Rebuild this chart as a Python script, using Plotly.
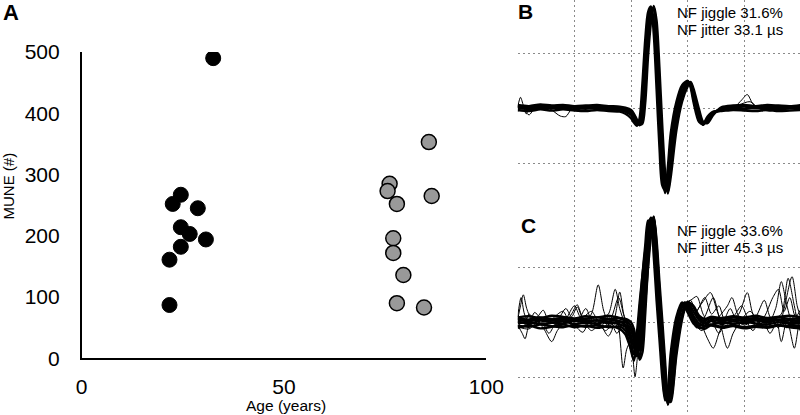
import plotly.graph_objs as go

# Panel A: MUNE vs age
young_age = [32.5, 24.5, 22.5, 28.7, 24.5, 26.7, 30.7, 24.5, 21.7, 21.7]
young_mune = [490, 267, 252, 245, 214, 203, 194, 182, 161, 87]
old_age = [85.8, 76.1, 75.6, 86.5, 77.9, 77.0, 77.0, 79.5, 77.9, 84.6]
old_mune = [353, 285, 273, 265, 252, 196, 172, 136, 90, 83]

# Panel B: superimposed near-fibre MUP traces (grid units)
tB = [0.0, 0.2, 0.4, 0.6, 0.8, 1.0, 1.2, 1.4, 1.6, 1.8, 1.9, 2.0, 2.05, 2.1, 2.15, 2.2,
      2.25, 2.3, 2.35, 2.4, 2.45, 2.5, 2.55, 2.6, 2.65, 2.7, 2.8, 2.9, 3.0, 3.05, 3.1,
      3.2, 3.27, 3.35, 3.45, 3.6, 3.8, 4.0, 4.2, 4.4, 4.6, 4.8, 5.0]
b1 = [0.03, -0.02, 0.02, 0.00, 0.03, 0.01, -0.01, 0.02, 0.00, -0.01, -0.03, -0.08, -0.16,
      -0.26, -0.30, -0.06, 0.70, 1.40, 1.78, 1.82, 1.12, 0.05, -0.92, -1.50, -1.42, -0.85,
      -0.10, 0.30, 0.47, 0.45, 0.25, -0.15, -0.30, -0.20, -0.08, -0.02, 0.01, 0.03, 0.00,
      0.02, -0.01, 0.01, 0.03]
b2 = [-0.03, -0.05, -0.02, -0.04, -0.02, -0.04, -0.05, -0.03, -0.05, -0.06, -0.10, -0.18,
      -0.26, -0.32, -0.18, 0.45, 1.25, 1.75, 1.85, 1.35, 0.35, -0.70, -1.40, -1.48, -1.05,
      -0.45, 0.12, 0.42, 0.50, 0.38, 0.12, -0.25, -0.28, -0.15, -0.06, -0.05, -0.03, -0.04,
      -0.05, -0.03, -0.05, -0.04, -0.03]
b3 = [0.06, 0.04, 0.07, 0.05, 0.06, 0.04, 0.05, 0.06, 0.04, 0.03, 0.01, -0.03, -0.10,
      -0.20, -0.29, -0.28, 0.10, 0.95, 1.55, 1.86, 1.60, 0.75, -0.30, -1.15, -1.55, -1.25,
      -0.40, 0.12, 0.40, 0.48, 0.36, -0.02, -0.24, -0.27, -0.12, 0.02, 0.05, 0.06, 0.04,
      0.06, 0.05, 0.04, 0.06]
b4 = [0.00, 0.01, -0.01, 0.02, 0.00, -0.02, 0.01, 0.00, -0.02, -0.03, -0.06, -0.12, -0.22,
      -0.30, -0.25, 0.20, 1.00, 1.62, 1.84, 1.60, 0.70, -0.35, -1.20, -1.54, -1.25, -0.62,
      0.02, 0.38, 0.49, 0.42, 0.18, -0.20, -0.30, -0.18, -0.07, -0.03, 0.00, -0.01, 0.01,
      0.00, -0.02, 0.00, 0.01]
b5 = [0.04, 0.02, 0.04, 0.03, 0.01, 0.03, 0.02, 0.04, 0.02, 0.01, -0.01, -0.05, -0.12,
      -0.22, -0.31, -0.20, 0.40, 1.18, 1.68, 1.84, 1.38, 0.40, -0.62, -1.35, -1.52, -1.05,
      -0.25, 0.22, 0.45, 0.47, 0.30, -0.08, -0.27, -0.24, -0.10, 0.00, 0.03, 0.04, 0.02,
      0.04, 0.02, 0.03, 0.04]

# noisy sweeps in B (baseline parts only, the spike is covered by the bundle)
nb1_t = [0.0, 0.05, 0.1, 0.15, 0.22, 0.35, 0.55, 0.75, 0.95, 1.15, 1.35, 1.55, 1.75, 1.95, None,
         3.5, 3.7, 3.85, 3.95, 4.05, 4.15, 4.3, 4.5, 4.7, 4.9, 5.0]
nb1_v = [0.02, 0.20, 0.05, -0.10, 0.02, 0.00, 0.06, -0.02, 0.03, 0.00, 0.05, -0.02, 0.01, -0.05, None,
         -0.05, 0.02, 0.05, 0.15, 0.25, 0.08, -0.02, 0.04, 0.00, 0.03, 0.00]
nb2_t = [0.0, 0.1, 0.2, 0.3, 0.45, 0.6, 0.75, 0.85, 0.95, 1.2, 1.45, 1.7, 1.95, None,
         3.5, 3.7, 3.9, 4.1, 4.25, 4.45, 4.7, 5.0]
nb2_v = [-0.05, -0.03, -0.12, 0.00, 0.05, -0.03, -0.14, -0.15, -0.02, 0.03, -0.04, 0.02, -0.06, None,
         -0.08, -0.02, 0.06, 0.12, 0.00, -0.05, 0.02, -0.04]

# Panel C
tC = [0.0, 0.2, 0.4, 0.6, 0.8, 1.0, 1.2, 1.4, 1.6, 1.8, 1.9, 1.95, 2.0, 2.05, 2.1, 2.15,
      2.2, 2.25, 2.3, 2.35, 2.4, 2.45, 2.5, 2.55, 2.6, 2.65, 2.7, 2.8, 2.9, 2.95, 3.0,
      3.1, 3.2, 3.3, 3.4, 3.6, 3.8, 4.0, 4.2, 4.4, 4.6, 4.8, 5.0]
c1 = [0.02, -0.03, 0.03, 0.00, -0.02, 0.03, 0.00, 0.04, -0.02, 0.01, -0.05, -0.12, -0.25,
      -0.45, -0.62, -0.35, 0.30, 0.95, 1.55, 1.88, 1.85, 0.95, 0.20, -0.45, -1.20, -1.48,
      -1.00, -0.20, 0.28, 0.36, 0.33, 0.12, -0.02, -0.06, 0.02, -0.03, 0.02, -0.02, 0.03,
      0.00, 0.04, -0.01, 0.02]
c2 = [-0.06, -0.08, -0.04, -0.07, -0.09, -0.05, -0.08, -0.05, -0.09, -0.08, -0.15, -0.30,
      -0.52, -0.70, -0.40, 0.20, 0.85, 1.40, 1.85, 1.80, 1.20, 0.40, -0.30, -1.00, -1.42,
      -1.20, -0.55, 0.10, 0.36, 0.30, 0.18, -0.02, -0.10, -0.08, -0.04, -0.08, -0.05, -0.09,
      -0.06, -0.08, -0.05, -0.07, -0.06]
c3 = [0.07, 0.05, 0.09, 0.06, 0.08, 0.05, 0.07, 0.09, 0.06, 0.07, 0.03, 0.00, -0.08, -0.22,
      -0.45, -0.62, -0.30, 0.35, 1.00, 1.55, 1.92, 1.50, 0.75, 0.05, -0.70, -1.35, -1.45,
      -0.60, 0.05, 0.25, 0.37, 0.28, 0.08, 0.02, 0.08, 0.05, 0.09, 0.06, 0.08, 0.05, 0.09,
      0.06, 0.08]
c4 = [-0.02, 0.00, -0.03, -0.01, 0.02, -0.03, -0.01, -0.02, 0.01, -0.04, -0.08, -0.18,
      -0.36, -0.58, -0.55, -0.05, 0.60, 1.20, 1.72, 1.90, 1.55, 0.70, -0.05, -0.75, -1.35,
      -1.40, -0.78, -0.05, 0.33, 0.35, 0.26, 0.05, -0.06, -0.02, -0.05, 0.01, -0.03, 0.01,
      -0.02, -0.04, 0.00, -0.03, -0.01]
c5 = [0.04, 0.02, 0.05, 0.03, 0.05, 0.02, 0.04, 0.03, 0.05, 0.02, 0.00, -0.06, -0.15, -0.32,
      -0.55, -0.50, 0.00, 0.65, 1.28, 1.75, 1.90, 1.20, 0.45, -0.20, -0.95, -1.50, -1.25,
      -0.38, 0.15, 0.32, 0.36, 0.20, 0.04, -0.02, 0.04, 0.02, 0.05, 0.03, 0.05, 0.02, 0.05,
      0.03, 0.04]
c6 = [-0.10, -0.06, -0.11, -0.08, -0.04, -0.09, -0.06, -0.10, -0.07, -0.12, -0.22, -0.35,
      -0.48, -0.55, -0.22, 0.35, 0.85, 1.30, 1.70, 1.90, 1.70, 0.85, 0.05, -0.70, -1.30,
      -1.38, -0.90, -0.10, 0.30, 0.34, 0.27, 0.06, -0.08, -0.12, -0.06, -0.10, -0.07, -0.11,
      -0.08, -0.10, -0.06, -0.09, -0.11]
c7 = [0.09, 0.11, 0.08, 0.12, 0.10, 0.07, 0.11, 0.09, 0.12, 0.08, 0.06, 0.04, 0.00, -0.12,
      -0.40, -0.68, -0.55, 0.15, 1.05, 1.72, 1.92, 1.40, 0.60, -0.15, -0.85, -1.45, -1.40,
      -0.50, 0.10, 0.28, 0.36, 0.30, 0.12, 0.06, 0.10, 0.08, 0.11, 0.09, 0.12, 0.08, 0.10,
      0.12, 0.09]

nc1_t = [0.0, 0.05, 0.1, 0.16, 0.25, 0.35, 0.45, 0.55, 0.75, 0.95, 1.15, 1.3, 1.42, 1.52, 1.65,
         1.85, 1.95, None, 2.95, 3.05, 3.16, 3.27, 3.4, 3.55, 3.7, 3.78, 3.88, 4.0, 4.2, 4.4,
         4.55, 4.65, 4.75, 4.85, 5.0]
nc1_v = [0.05, 0.30, 0.50, 0.25, 0.05, 0.10, 0.22, 0.02, -0.05, 0.08, 0.00, 0.15, 0.68, 0.20,
         -0.10, 0.00, -0.10, None, 0.35, 0.40, 0.47, 0.15, -0.05, 0.10, 0.30, 0.45, 0.15, 0.00,
         0.10, -0.05, 0.25, 0.74, 0.30, 0.00, 0.10]
nc2_t = [0.0, 0.08, 0.13, 0.2, 0.3, 0.45, 0.6, 0.7, 0.85, 1.0, 1.1, 1.25, 1.45, 1.6, 1.72, 1.8,
         1.9, 1.98, None, 2.95, 3.1, 3.25, 3.4, 3.52, 3.65, 3.75, 3.9, 4.05, 4.15, 4.3, 4.5,
         4.65, 4.77, 4.87, 4.95, 5.0]
nc2_v = [-0.05, -0.20, -0.30, -0.05, 0.05, -0.10, -0.35, -0.15, 0.05, 0.30, 0.10, -0.05, 0.05,
         0.15, 0.60, 0.25, -0.05, -0.20, None, 0.30, 0.15, 0.35, 0.54, 0.20, -0.10, 0.05, 0.15,
         0.54, 0.15, -0.05, 0.05, 0.15, 0.80, 0.35, -0.05, -0.20]
nc3_t = [0.0, 0.06, 0.12, 0.2, 0.3, 0.38, 0.5, 0.7, 0.85, 0.95, 1.05, 1.15, 1.3, 1.45, 1.6, 1.75,
         1.86, 1.92, 2.0, None, 2.95, 3.05, 3.2, 3.35, 3.45, 3.55, 3.65, 3.75, 3.85, 4.0, 4.2,
         4.35, 4.45, 4.6, 4.7, 4.84, 4.93, 5.0]
nc3_v = [0.10, 0.45, 0.15, 0.00, 0.18, 0.10, 0.02, 0.05, 0.25, 0.10, 0.28, 0.05, -0.15, -0.05,
         -0.25, 0.05, -0.83, -0.50, -0.30, None, 0.30, 0.25, 0.05, -0.30, -0.47, -0.20, 0.05,
         0.25, 0.05, -0.05, 0.10, 0.40, 0.10, -0.10, 0.25, 0.83, 0.30, 0.05]
nc4_t = [0.0, 0.1, 0.2, 0.3, 0.5, 0.65, 0.8, 0.9, 1.0, 1.2, 1.3, 1.5, 1.65, 1.78, 1.88, 1.98,
         2.03, 2.07, 2.12, 2.18, None, 2.95, 3.05, 3.15, 3.3, 3.45, 3.55, 3.7, 3.8, 3.95, 4.1,
         4.25, 4.4, 4.55, 4.65, 4.75, 4.88, 4.95, 5.0]
nc4_v = [0.00, -0.10, 0.15, 0.05, -0.05, 0.10, 0.20, 0.02, -0.10, 0.25, 0.05, -0.10, 0.08,
         0.45, 0.10, -0.15, -0.60, -0.99, -0.55, 0.00, None, 0.30, 0.20, -0.10, 0.10, 0.45,
         0.10, -0.47, -0.20, 0.05, 0.20, 0.00, -0.10, 0.10, -0.35, 0.05, -0.47, -0.10, 0.10]
nc5_t = [0.0, 0.15, 0.3, 0.45, 0.6, 0.8, 0.95, 1.05, 1.15, 1.3, 1.4, 1.55, 1.7, 1.8, 1.87, 1.95,
         None, 2.95, 3.05, 3.15, 3.3, 3.42, 3.55, 3.65, 3.8, 3.95, 4.05, 4.2, 4.35, 4.5, 4.6,
         4.7, 4.8, 4.9, 5.0]
nc5_v = [0.02, 0.05, -0.08, 0.02, 0.05, -0.05, 0.15, 0.32, 0.10, 0.20, 0.05, -0.15, 0.05, 0.55,
         0.15, -0.10, None, 0.32, 0.40, 0.20, 0.45, 0.15, 0.30, 0.05, 0.10, 0.30, 0.10, -0.05,
         0.10, 0.45, 0.60, 0.20, 0.45, 0.10, 0.25]
nc6_t = [0.0, 0.2, 0.4, 0.55, 0.65, 0.8, 1.0, 1.15, 1.3, 1.45, 1.6, 1.75, 1.85, 1.95, None,
         2.95, 3.1, 3.25, 3.4, 3.55, 3.7, 3.85, 4.0, 4.15, 4.3, 4.45, 4.6, 4.75, 4.9, 5.0]
nc6_v = [-0.08, -0.12, 0.05, -0.20, -0.05, 0.10, -0.05, -0.18, 0.10, -0.10, 0.10, -0.20, -0.05,
         -0.20, None, 0.25, 0.00, -0.15, 0.05, -0.20, 0.10, -0.10, 0.05, -0.15, 0.10, -0.20,
         0.05, -0.10, 0.15, -0.05]

FONT = 'Liberation Sans, Arial, sans-serif'

fig = go.Figure()

fig.add_trace(go.Scatter(x=young_age, y=young_mune, mode='markers',
                         marker=dict(size=15, color='black', line=dict(color='black', width=1))))
fig.add_trace(go.Scatter(x=old_age, y=old_mune, mode='markers',
                         marker=dict(size=15, color='#999999', line=dict(color='black', width=1.5))))

for v in [b1, b2, b3, b4, b5]:
    fig.add_trace(go.Scatter(x=tB, y=v, mode='lines', xaxis='x2', yaxis='y2',
                             line=dict(color='black', width=2.4, shape='spline', smoothing=0.8)))
for t, v in [(nb1_t, nb1_v), (nb2_t, nb2_v)]:
    fig.add_trace(go.Scatter(x=t, y=v, mode='lines', xaxis='x2', yaxis='y2',
                             line=dict(color='black', width=1, shape='spline', smoothing=0.8)))

for v in [c1, c2, c3, c4, c5, c6, c7]:
    fig.add_trace(go.Scatter(x=tC, y=v, mode='lines', xaxis='x3', yaxis='y3',
                             line=dict(color='black', width=2.4, shape='spline', smoothing=0.8)))
for t, v in [(nc1_t, nc1_v), (nc2_t, nc2_v), (nc3_t, nc3_v),
             (nc4_t, nc4_v), (nc5_t, nc5_v), (nc6_t, nc6_v)]:
    fig.add_trace(go.Scatter(x=t, y=v, mode='lines', xaxis='x3', yaxis='y3',
                             line=dict(color='black', width=1, shape='spline', smoothing=0.8)))

grid = dict(showgrid=True, gridcolor='#8a8a8a', gridwidth=1, griddash='2px,3px',
            showticklabels=False, ticks='', zeroline=False, showline=False)


def px(x, y):
    # pixel position -> paper coords
    return x / 800, 1 - y / 415


annots = []
for text, x, y, size, bold in [('A', 2, 13, 22, True), ('B', 517, 11.5, 21, True),
                               ('C', 520, 225.8, 21, True),
                               ('NF jiggle 31.6%', 676, 12.7, 15, False),
                               ('NF jitter 33.1 µs', 676, 29.8, 15, False),
                               ('NF jiggle 33.6%', 676, 230, 15, False),
                               ('NF jitter 45.3 µs', 676, 247.3, 15, False)]:
    ax, ay = px(x, y)
    annots.append(dict(text='<b>%s</b>' % text if bold else text, x=ax, y=ay,
                       xref='paper', yref='paper', xanchor='left', yanchor='middle',
                       borderpad=0, showarrow=False,
                       font=dict(size=size, color='black', family=FONT)))
ax, ay = px(286, 405)
annots.append(dict(text='Age (years)', x=ax, y=ay, xref='paper', yref='paper',
                   xanchor='center', yanchor='middle', borderpad=0, showarrow=False,
                   font=dict(size=15.5, color='black', family=FONT)))
ax, ay = px(7.5, 186)
annots.append(dict(text='MUNE (#)', x=ax, y=ay, xref='paper', yref='paper', textangle=-90,
                   xanchor='center', yanchor='middle', borderpad=0, showarrow=False,
                   font=dict(size=15, color='black', family=FONT)))

fig.update_layout(
    width=800, height=415,
    margin=dict(l=0, r=0, t=0, b=0, autoexpand=False),
    paper_bgcolor='white', plot_bgcolor='white',
    showlegend=False,
    font=dict(family=FONT, color='black'),
    xaxis=dict(domain=[0.1021, 0.6079], range=[0, 100], tickvals=[0, 50, 100],
               showline=True, linecolor='black', linewidth=1.5, showgrid=False,
               zeroline=False, ticks='', ticklabelstandoff=9,
               tickfont=dict(size=21), anchor='y'),
    yaxis=dict(domain=[0.1366, 0.8747], range=[0, 500], tickvals=[0, 100, 200, 300, 400, 500],
               showline=True, linecolor='black', linewidth=1.5, showgrid=False,
               zeroline=False, ticks='', ticklabelstandoff=16,
               tickfont=dict(size=21), anchor='x'),
    xaxis2=dict(domain=[0.6471, 1.0], range=[0, 4.98], tickvals=[1, 2, 3, 4], anchor='y2', **grid),
    yaxis2=dict(domain=[0.5181, 1.0], range=[-1.667, 1.969], tickvals=[-1, 0, 1], anchor='x2', **grid),
    xaxis3=dict(domain=[0.6471, 1.0], range=[0, 4.98], tickvals=[1, 2, 3, 4], anchor='y3', **grid),
    yaxis3=dict(domain=[0, 0.5181], range=[-1.685, 2.224], tickvals=[-1, 0, 1], anchor='x3', **grid),
    annotations=annots,
)

# the page's default body margin would shift the figure by 8px
fig.write_html('out.html', config={'displayModeBar': False},
               post_script="document.body.style.margin = '0px';")
